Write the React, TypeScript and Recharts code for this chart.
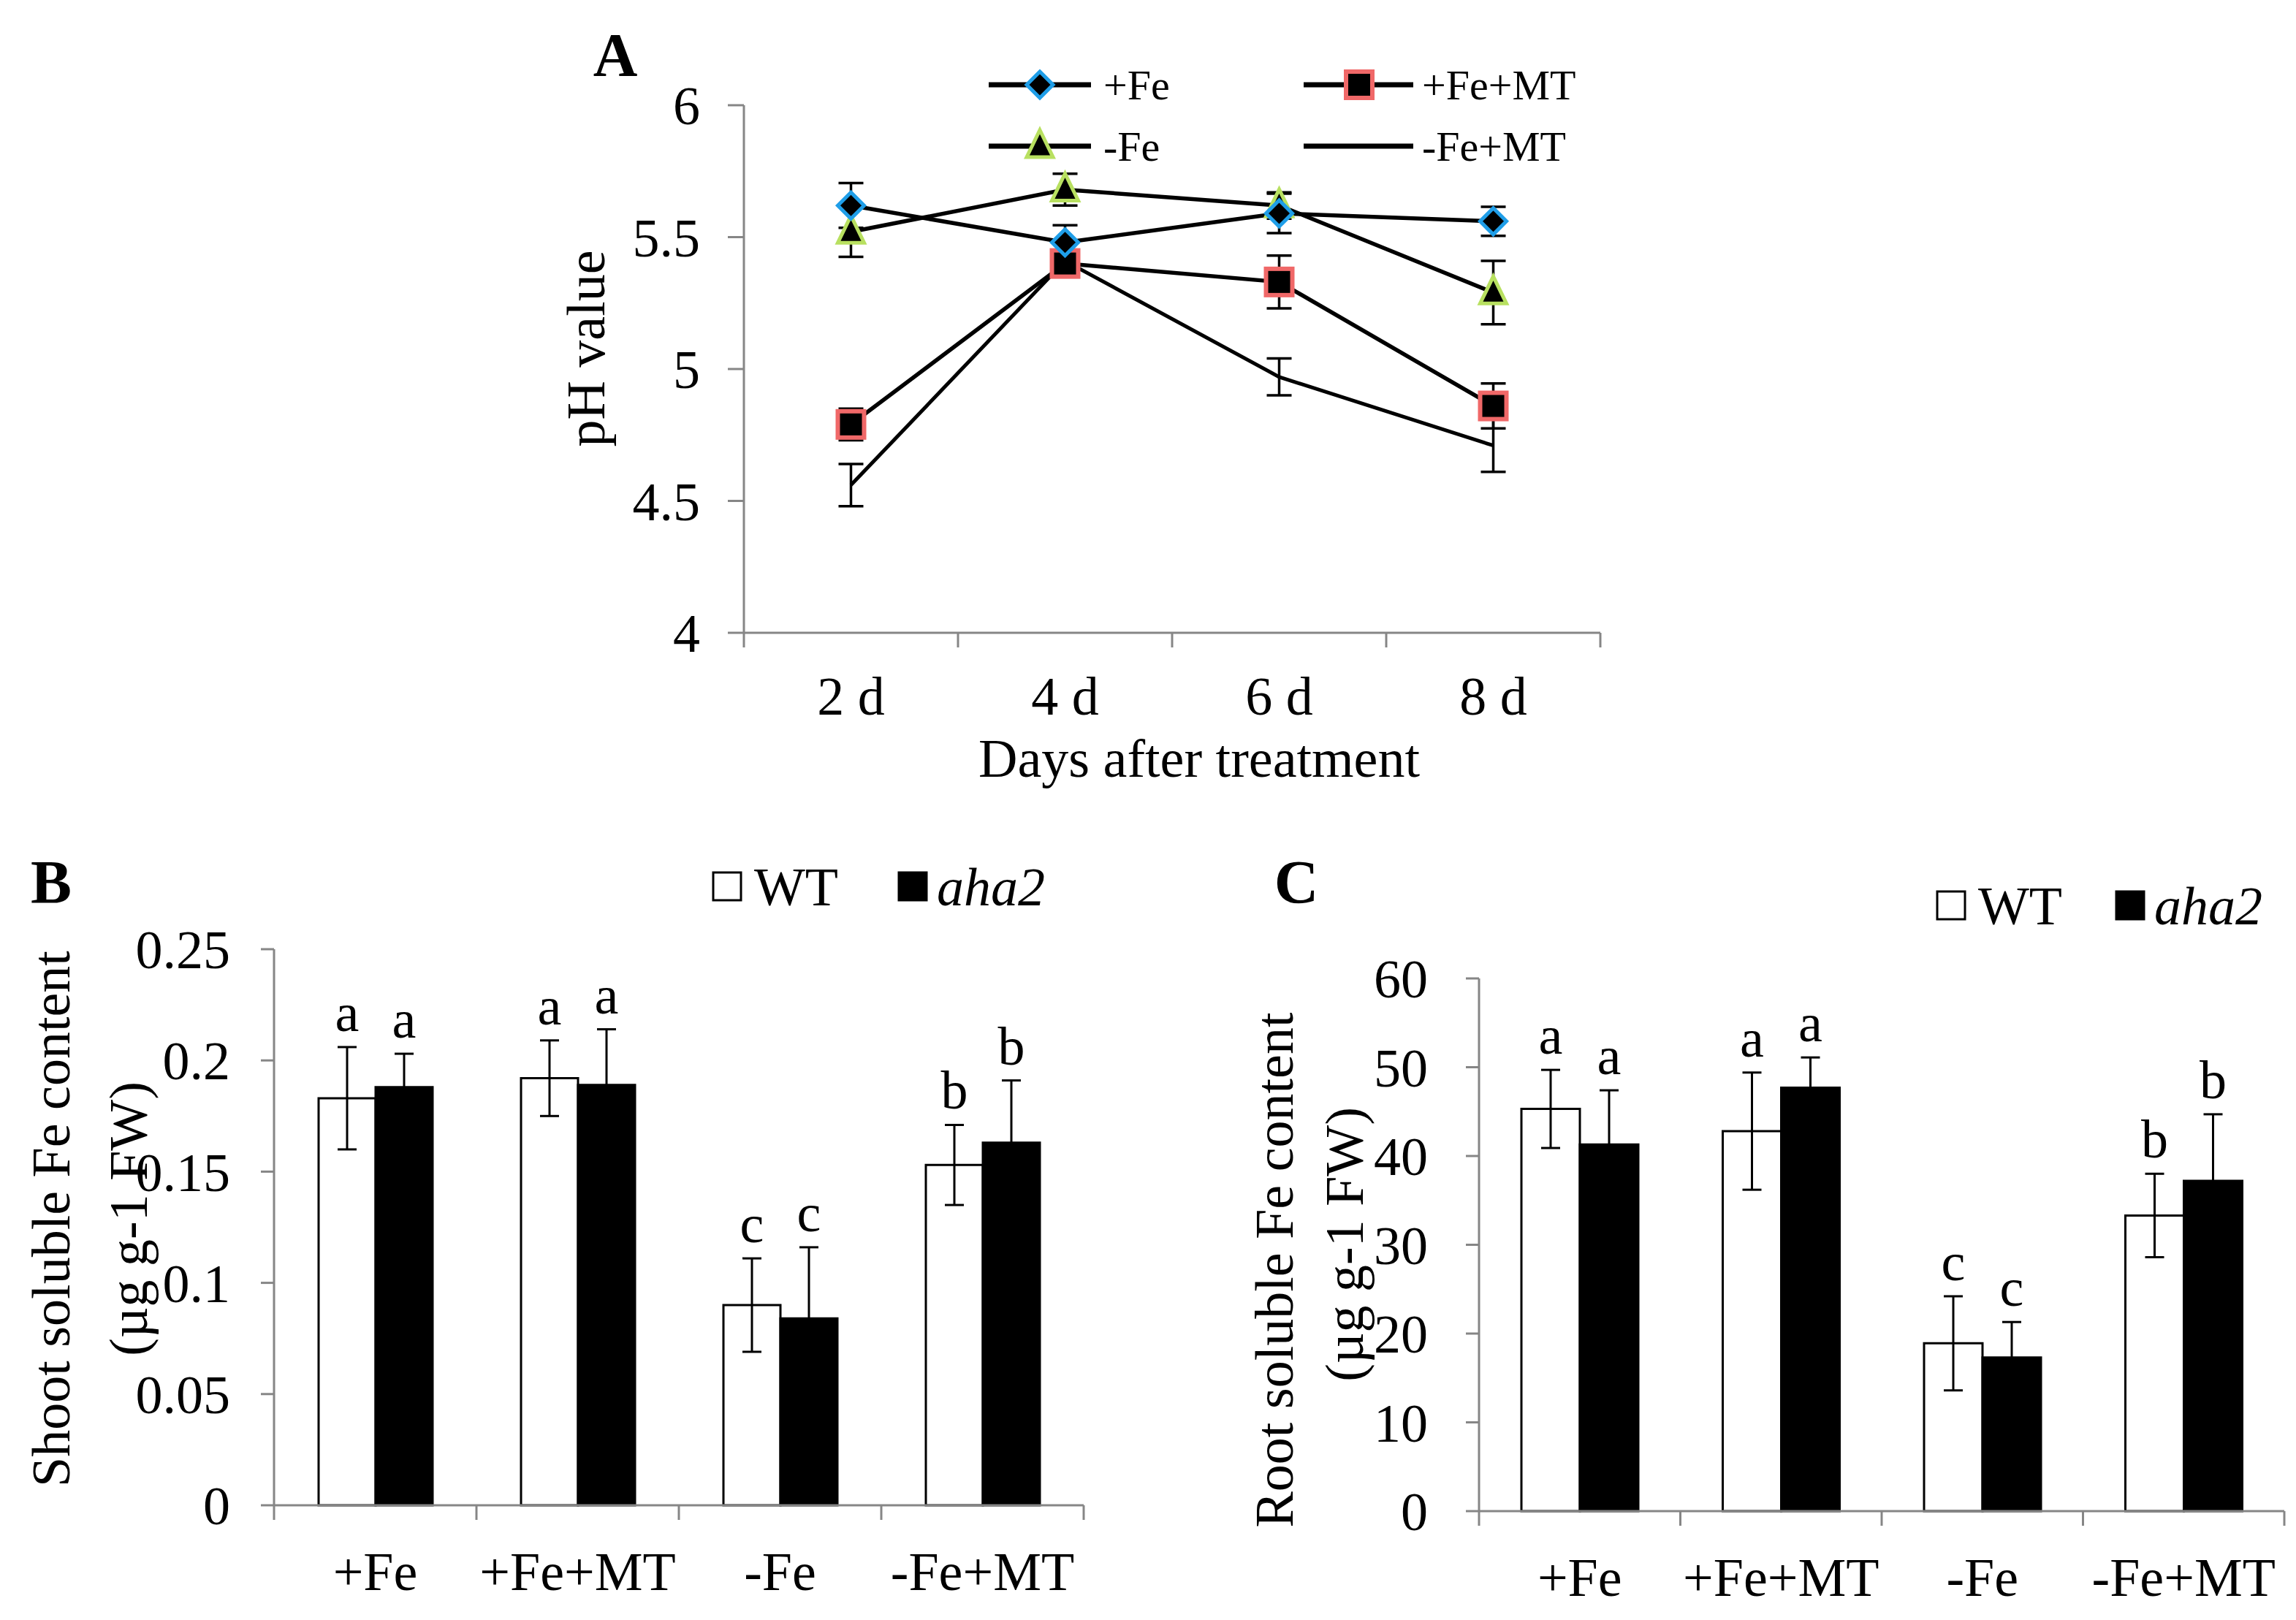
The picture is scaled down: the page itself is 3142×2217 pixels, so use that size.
import React from "react";
import {
	LineChart,
	Line,
	BarChart,
	Bar,
	XAxis,
	YAxis,
	ErrorBar,
	LabelList,
	Legend,
} from "recharts";

// panel A: pH of the medium
const days = ["2 d", "4 d", "6 d", "8 d"];
const phFe = [5.62, 5.48, 5.59, 5.56];
const phFeErr = [0.085, 0.065, 0.075, 0.055];
const phFeMT = [4.79, 5.4, 5.33, 4.86];
const phFeMTErr = [0.06, 0.05, 0.1, 0.085];
const phNoFe = [5.52, 5.68, 5.62, 5.29];
const phNoFeErr = [0.095, 0.06, 0.05, 0.12];
const phNoFeMT = [4.56, 5.41, 4.97, 4.71];
const phNoFeMTErr = [0.08, 0.04, 0.07, 0.1];
const phTicks = [4, 4.5, 5, 5.5, 6];

// panels B and C
const treatments = ["+Fe", "+Fe+MT", "-Fe", "-Fe+MT"];
const shootWT = [0.183, 0.192, 0.09, 0.153];
const shootWTErr = [0.023, 0.017, 0.021, 0.018];
const shootAha2 = [0.188, 0.189, 0.084, 0.163];
const shootAha2Err = [0.015, 0.025, 0.032, 0.028];
const shootTicks = [0, 0.05, 0.1, 0.15, 0.2, 0.25];
const rootWT = [45.3, 42.8, 18.9, 33.3];
const rootWTErr = [4.4, 6.6, 5.3, 4.7];
const rootAha2 = [41.3, 47.7, 17.3, 37.2];
const rootAha2Err = [6.1, 3.4, 4.0, 7.5];
const rootTicks = [0, 10, 20, 30, 40, 50, 60];
const lettersWT = ["a", "a", "c", "b"];
const lettersAha2 = ["a", "a", "c", "b"];

const AXIS = "#868686";
const FS = 74;

const phData = days.map((day, i) => ({
	day,
	fe: phFe[i],
	feErr: phFeErr[i],
	feMT: phFeMT[i],
	feMTErr: phFeMTErr[i],
	noFe: phNoFe[i],
	noFeErr: phNoFeErr[i],
	noFeMT: phNoFeMT[i],
	noFeMTErr: phNoFeMTErr[i],
}));

const shootData = treatments.map((t, i) => ({
	t,
	wt: shootWT[i],
	wtErr: shootWTErr[i],
	aha2: shootAha2[i],
	aha2Err: shootAha2Err[i],
}));

const rootData = treatments.map((t, i) => ({
	t,
	wt: rootWT[i],
	wtErr: rootWTErr[i],
	aha2: rootAha2[i],
	aha2Err: rootAha2Err[i],
}));

function Marker({ kind, cx, cy }: { kind: string; cx: number; cy: number }) {
	if (kind === "diamond")
		return (
			<polygon
				points={`${cx},${cy - 18} ${cx + 18},${cy} ${cx},${cy + 18} ${cx - 18},${cy}`}
				fill="#000"
				stroke="#1f9ee8"
				strokeWidth={5}
			/>
		);
	if (kind === "square")
		return (
			<rect x={cx - 18} y={cy - 18} width={36} height={36} fill="#000" stroke="#f06868" strokeWidth={6} />
		);
	if (kind === "triangle")
		return (
			<polygon
				points={`${cx},${cy - 22} ${cx + 18},${cy + 15} ${cx - 18},${cy + 15}`}
				fill="#000"
				stroke="#b8e060"
				strokeWidth={5}
			/>
		);
	return null;
}

const dotOf = (kind: string) => (p: any) => (
	<Marker key={`${kind}-${p.index}`} kind={kind} cx={p.cx} cy={p.cy} />
);

// Excel-like category axis: tick marks on the band edges, label in the middle
const bandTick = (band: number, count: number, dy: number) => (p: any) => {
	const { x, y, payload, index } = p;
	const h = band / 2;
	return (
		<g>
			<line x1={x - h} x2={x - h} y1={y} y2={y + 20} stroke={AXIS} strokeWidth={3} />
			{index === count - 1 && (
				<line x1={x + h} x2={x + h} y1={y} y2={y + 20} stroke={AXIS} strokeWidth={3} />
			)}
			<text x={x} y={y + dy} textAnchor="middle" fontSize={FS} fill="#000">
				{payload.value}
			</text>
		</g>
	);
};

const letterLabel = (letters: string[], errs: number[]) => (p: any) => {
	const vb = p.viewBox ?? p;
	const x = vb.x ?? p.x;
	const y = vb.y ?? p.y;
	const w = vb.width ?? p.width;
	const h = vb.height ?? p.height;
	const i = p.index;
	const v = Number(p.value);
	const top = y - (errs[i] * h) / v;
	return (
		<text key={`l-${i}`} x={x + w / 2} y={top - 22} textAnchor="middle" fontSize={FS} fill="#000">
			{letters[i]}
		</text>
	);
};

const phLegendItems = [
	{ name: "+Fe", kind: "diamond", col: 0, row: 0 },
	{ name: "+Fe+MT", kind: "square", col: 1, row: 0 },
	{ name: "-Fe", kind: "triangle", col: 0, row: 1 },
	{ name: "-Fe+MT", kind: "none", col: 1, row: 1 },
];

function PhLegend() {
	const cols = [
		{ x1: 13, x2: 153, m: 83, t: 170 },
		{ x1: 444, x2: 594, m: 520, t: 606 },
	];
	return (
		<svg width={900} height={170}>
			{phLegendItems.map((it) => {
				const c = cols[it.col];
				const y = 46 + it.row * 84;
				return (
					<g key={it.name}>
						<line x1={c.x1} x2={c.x2} y1={y} y2={y} stroke="#000" strokeWidth={7} />
						<Marker kind={it.kind} cx={c.m} cy={y} />
						<text x={c.t} y={y + 20} fontSize={58} fill="#000">
							{it.name}
						</text>
					</g>
				);
			})}
		</svg>
	);
}

function BarLegend({ gap }: { gap: number }) {
	return (
		<svg width={480} height={90}>
			<rect x={6} y={25} width={38} height={38} fill="#fff" stroke="#000" strokeWidth={3} />
			<text x={62} y={70} fontSize={FS} fill="#000">
				WT
			</text>
			<rect x={6 + gap} y={25} width={38} height={38} fill="#000" stroke="#000" strokeWidth={3} />
			<text x={58 + gap} y={70} fontSize={FS} fontStyle="italic" fill="#000">
				aha2
			</text>
		</svg>
	);
}

const tickStyle = { fontSize: FS, fill: "#000" };
const axisLine = { stroke: AXIS, strokeWidth: 3 };

function Title({
	text,
	x,
	y,
	rotate,
	size = FS,
	bold,
}: {
	text: string;
	x: number;
	y: number;
	rotate?: boolean;
	size?: number;
	bold?: boolean;
}) {
	return (
		<div
			style={{
				position: "absolute",
				left: x,
				top: y,
				transform: `translate(-50%, -50%)${rotate ? " rotate(-90deg)" : ""}`,
				whiteSpace: "nowrap",
				fontSize: size,
				lineHeight: 1,
				fontWeight: bold ? "bold" : "normal",
			}}
		>
			{text}
		</div>
	);
}

function BarPanel({
	data,
	ticks,
	domain,
	left,
	top,
	width,
	height,
	margin,
	gap,
	tickGap,
	legendLeft,
	legendTop,
	legendGap,
}: any) {
	const band = (width - margin.left - 120 - margin.right) / treatments.length;
	return (
		<div style={{ position: "absolute", left, top }}>
			<BarChart width={width} height={height} data={data} margin={margin} barGap={0} barCategoryGap={gap}>
				<XAxis
					dataKey="t"
					height={100}
					axisLine={axisLine}
					tickLine={false}
					tickSize={0}
					tickMargin={0}
					interval={0}
					tick={bandTick(band, treatments.length, 116)}
				/>
				<YAxis
					width={120}
					domain={domain}
					ticks={ticks}
					interval={0}
					axisLine={axisLine}
					tickLine={{ stroke: AXIS, strokeWidth: 3 }}
					tickSize={18}
					tickMargin={tickGap}
					tick={tickStyle}
				/>
				<Legend
					layout="horizontal"
					verticalAlign="middle"
					align="center"
					wrapperStyle={{ left: legendLeft, top: legendTop, width: 480, height: 90 }}
					content={() => <BarLegend gap={legendGap} />}
				/>
				<Bar dataKey="wt" name="WT" fill="#fff" stroke="#000" strokeWidth={3} isAnimationActive={false}>
					<ErrorBar dataKey="wtErr" width={13} stroke="#000" strokeWidth={3} />
					<LabelList dataKey="wt" content={letterLabel(lettersWT, data.map((d: any) => d.wtErr))} />
				</Bar>
				<Bar dataKey="aha2" name="aha2" fill="#000" stroke="#000" strokeWidth={3} isAnimationActive={false}>
					<ErrorBar dataKey="aha2Err" width={13} stroke="#000" strokeWidth={3} />
					<LabelList dataKey="aha2" content={letterLabel(lettersAha2, data.map((d: any) => d.aha2Err))} />
				</Bar>
			</BarChart>
		</div>
	);
}

export default function App() {
	const phMargin = { top: 144, right: 110, bottom: 134, left: 198 };
	const phBand = (1600 - 198 - 120 - 110) / days.length;
	return (
		<div
			style={{
				position: "absolute",
				left: 0,
				top: 0,
				width: 3142,
				height: 2217,
				background: "#fff",
				fontFamily: "'Liberation Serif', 'Times New Roman', serif",
				color: "#000",
			}}
		>
			<div style={{ position: "absolute", left: 700, top: 0 }}>
				<LineChart width={1600} height={1100} data={phData} margin={phMargin}>
					<XAxis
						dataKey="day"
						height={100}
						padding={{ left: phBand / 2, right: phBand / 2 }}
						axisLine={axisLine}
						tickLine={false}
						tickSize={0}
						tickMargin={0}
						interval={0}
						tick={bandTick(phBand, days.length, 112)}
					/>
					<YAxis
						width={120}
						domain={[4, 6]}
						ticks={phTicks}
						interval={0}
						axisLine={axisLine}
						tickLine={{ stroke: AXIS, strokeWidth: 3 }}
						tickSize={22}
						tickMargin={38}
						tick={tickStyle}
					/>
					<Legend
						layout="horizontal"
						verticalAlign="middle"
						align="center"
						wrapperStyle={{ left: 640, top: 70, width: 900, height: 170 }}
						content={() => <PhLegend />}
					/>
					<Line dataKey="noFeMT" stroke="#000" strokeWidth={5} dot={false} isAnimationActive={false}>
						<ErrorBar dataKey="noFeMTErr" width={17} stroke="#000" strokeWidth={3.5} />
					</Line>
					<Line dataKey="feMT" stroke="#000" strokeWidth={5.5} dot={dotOf("square")} isAnimationActive={false}>
						<ErrorBar dataKey="feMTErr" width={17} stroke="#000" strokeWidth={3.5} />
					</Line>
					<Line dataKey="noFe" stroke="#000" strokeWidth={5.5} dot={dotOf("triangle")} isAnimationActive={false}>
						<ErrorBar dataKey="noFeErr" width={17} stroke="#000" strokeWidth={3.5} />
					</Line>
					<Line dataKey="fe" stroke="#000" strokeWidth={5.5} dot={dotOf("diamond")} isAnimationActive={false}>
						<ErrorBar dataKey="feErr" width={17} stroke="#000" strokeWidth={3.5} />
					</Line>
				</LineChart>
			</div>

			<BarPanel
				data={shootData}
				ticks={shootTicks}
				domain={[0, 0.25]}
				left={0}
				top={1150}
				width={1560}
				height={1067}
				margin={{ top: 149, right: 77, bottom: 57, left: 255 }}
				gap={61}
				tickGap={42}
				legendLeft={970}
				legendTop={19}
				legendGap={254}
			/>
			<BarPanel
				data={rootData}
				ticks={rootTicks}
				domain={[0, 60]}
				left={1660}
				top={1150}
				width={1482}
				height={1067}
				margin={{ top: 189, right: 16, bottom: 49, left: 244 }}
				gap={58}
				tickGap={52}
				legendLeft={985}
				legendTop={45}
				legendGap={245}
			/>

			<Title text="A" x={842} y={76} size={84} bold />
			<Title text="B" x={70} y={1208} size={84} bold />
			<Title text="C" x={1774} y={1208} size={84} bold />
			<Title text="pH value" x={802} y={477} rotate />
			<Title text="Days after treatment" x={1641} y={1038} />
			<Title text="Shoot soluble Fe content" x={70} y={1668} rotate />
			<Title text="(µg g-1 FW)" x={176} y={1668} rotate />
			<Title text="Root soluble Fe content" x={1744} y={1738} rotate />
			<Title text="(µg g-1 FW)" x={1840} y={1703} rotate />
		</div>
	);
}
